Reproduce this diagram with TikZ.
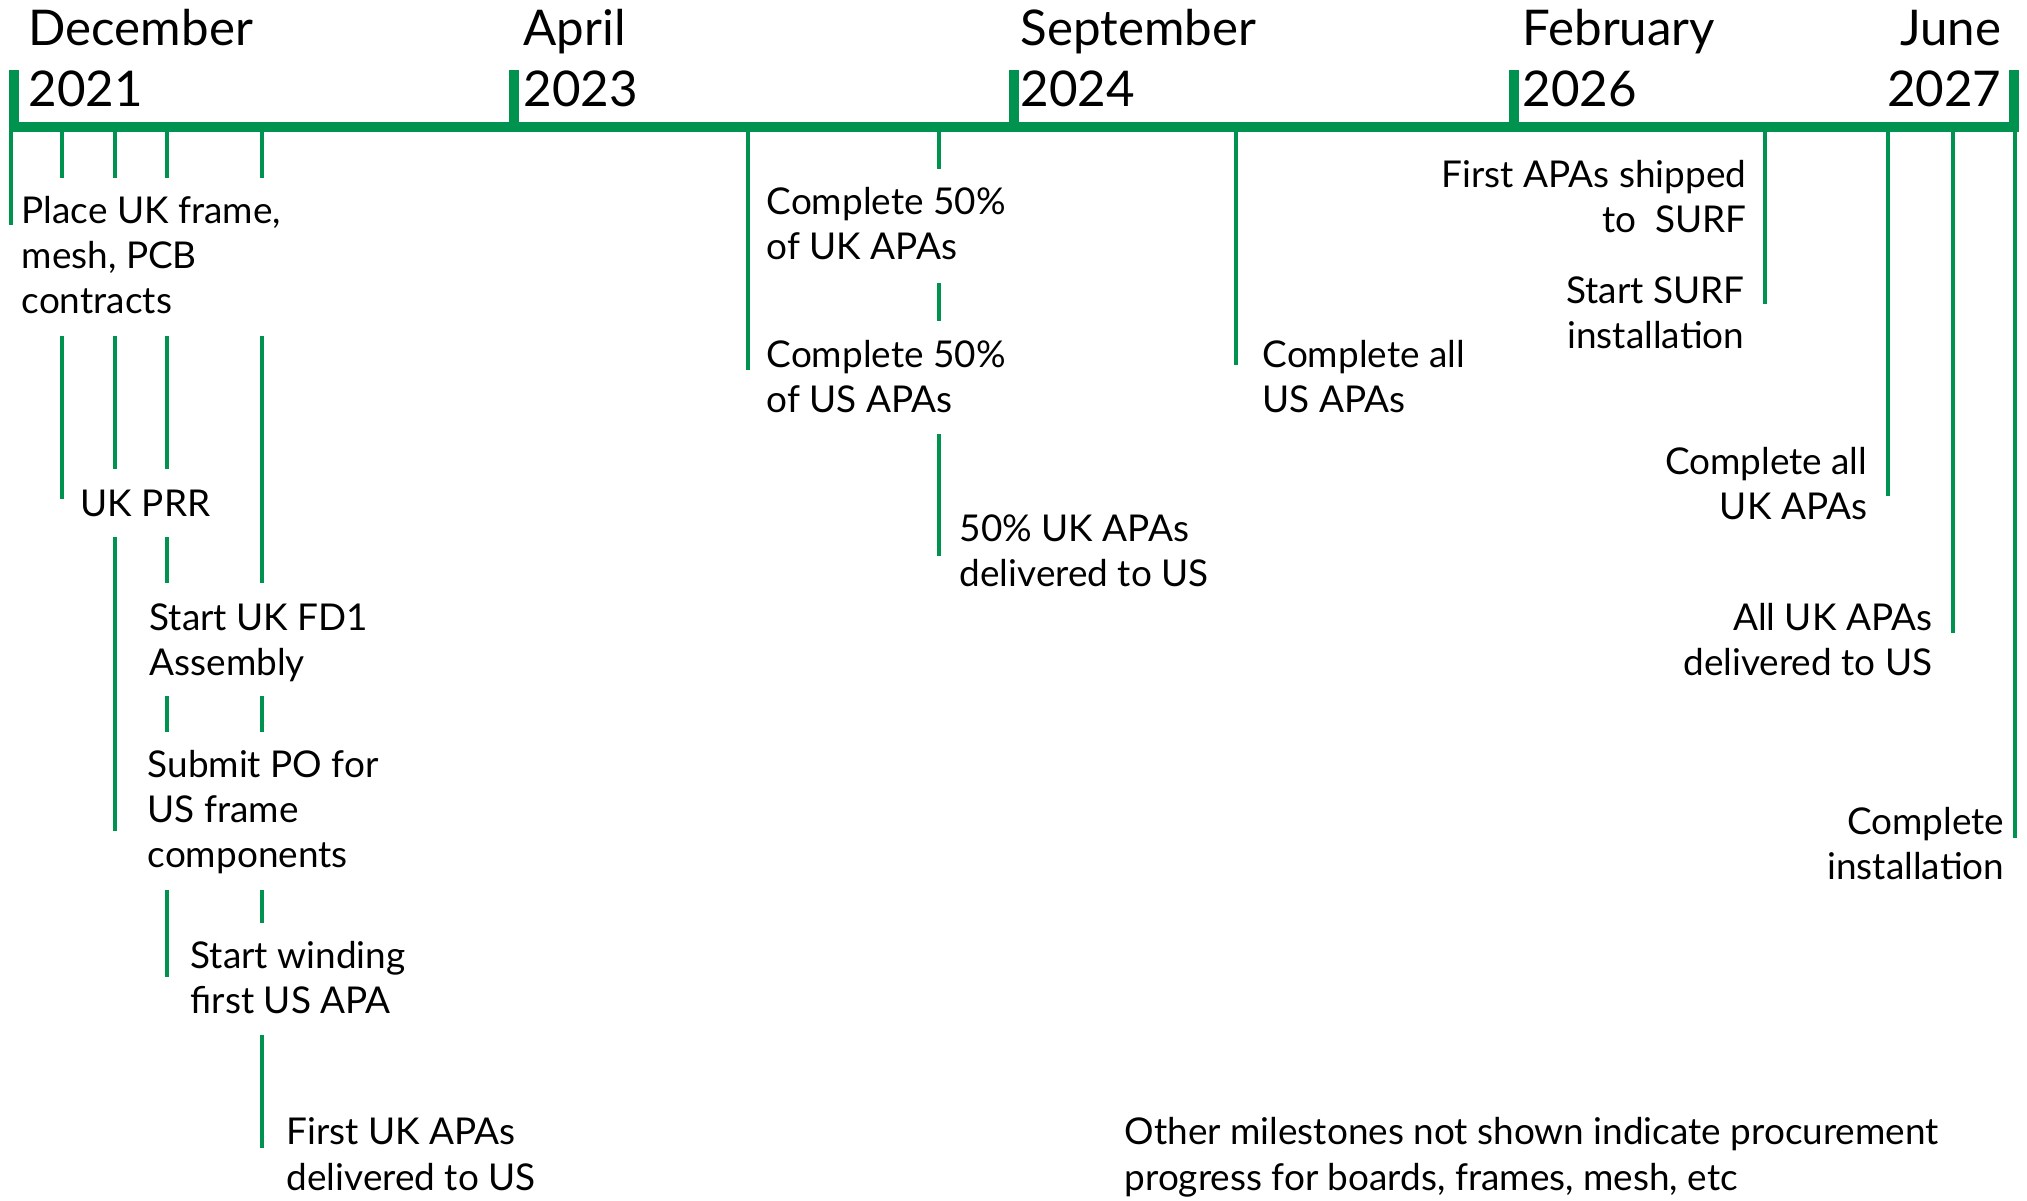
\documentclass[tikz,border=0pt]{standalone}
\usepackage{fontspec}
\setmainfont{Lato}
\usetikzlibrary{positioning}
\definecolor{tlgreen}{RGB}{0,146,79}

\begin{document}
\begin{tikzpicture}[
        x=0.01cm, y=-0.01cm,
        month/.style={font=\fontsize{14}{17.6}\selectfont, inner sep=0pt},
        mile/.style={font=\fontsize{10.5}{12.8}\selectfont, inner sep=0pt},
        axisline/.style={tlgreen, line width=2.85pt},
        major/.style={tlgreen, line width=2.6pt},
        stem/.style={tlgreen, line width=1.4pt},
    ]
    \useasboundingbox (0,0) rectangle (2027,1201);

    % ===== Time axis =====
    \draw[axisline] (9,127) -- (2019,127);
    \foreach \x in {14,514,1014,1514,2014}
        \draw[major] (\x,70) -- (\x,132);

    % ===== Dates (base = last line) =====
    \node[month, anchor=base west, align=left] (DEC) at (28,107) {December\\2021};
    \node[month, anchor=base west, align=left] (APR) at (523,107) {April\\2023};
    \node[month, anchor=base west, align=left] (SEP) at (1020,107) {September\\2024};
    \node[month, anchor=base west, align=left] (FEB) at (1522,107) {February\\2026};
    \node[month, anchor=base east, align=right] (JUN) at (2002,107) {June\\2027};

    % ===== Milestone stems =====
    \foreach \x/\ya/\yb in {11/130/225,
            62/132/178, 62/336/499,
            115/132/178, 115/336/469, 115/537/831,
            167/132/178, 167/336/469, 167/537/583, 167/696/732, 167/890/977,
            262/132/178, 262/336/583, 262/696/732, 262/890/923, 262/1035/1148,
            748/132/370,
            939/132/169, 939/283/321, 939/434/556,
            1236/132/365,
            1765/132/304, 1888/132/496, 1953/132/633, 2015/132/838}
        \draw[stem] (\x,\ya) -- (\x,\yb);

    % ===== 2021 - 2023 =====
    \node[mile, anchor=base west, align=left] (PLACE) at (21,314) {Place UK frame,\\mesh, PCB\\contracts};
    \node[mile, anchor=base west, align=left] (PRR) at (80,517) {UK PRR};
    \node[mile, anchor=base west, align=left] (FD1) at (149,676) {Start UK FD1\\Assembly};
    \node[mile, anchor=base west, align=left] (PO) at (147,868) {Submit PO for\\US frame\\components};
    \node[mile, anchor=base west, align=left] (WIND) at (190,1014) {Start winding\\first US APA};
    \node[mile, anchor=base west, align=left] (FIRST_UK) at (286,1190) {First UK APAs\\delivered to US};

    % ===== 2023 - 2026 =====
    \node[mile, anchor=base west, align=left] (HALF_UK) at (766,260) {Complete 50\%\\of UK APAs};
    \node[mile, anchor=base west, align=left] (HALF_US) at (766,413) {Complete 50\%\\of US APAs};
    \node[mile, anchor=base west, align=left] (HALF_DEL) at (959,587) {50\% UK APAs\\delivered to US};
    \node[mile, anchor=base west, align=left] (ALL_US) at (1262,413) {Complete all\\US APAs};

    % ===== 2026 - 2027 =====
    \node[mile, anchor=base east, align=right] (SHIP) at (1747,233) {First APAs shipped\\to\ \ SURF};
    \node[mile, anchor=base east, align=right] (SURF) at (1745,349) {Start SURF\\installation};
    \node[mile, anchor=base east, align=right] (ALL_UK) at (1868,520) {Complete all\\UK APAs};
    \node[mile, anchor=base east, align=right] (ALL_DEL) at (1933,676) {All UK APAs\\delivered to US};
    \node[mile, anchor=base east, align=right] (INSTALL) at (2005,880) {Complete\\installation};

    \node[mile, anchor=base west, align=left] (NOTE) at (1124,1190)
        {Other milestones not shown indicate procurement\\progress for boards, frames, mesh, etc};
\end{tikzpicture}
\end{document}
